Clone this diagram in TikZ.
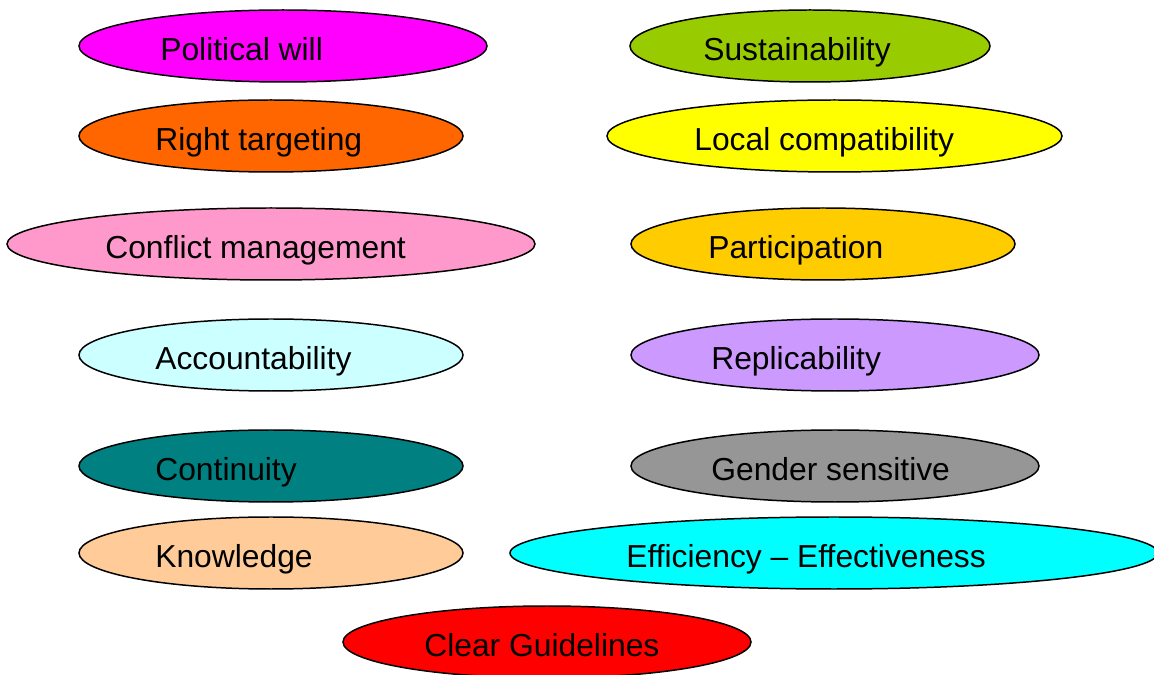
\documentclass[tikz,border=0pt]{standalone}
\usepackage{fontspec}
\setmainfont{Liberation Sans}
\usetikzlibrary{shapes.geometric}

\definecolor{cPol}{HTML}{FF00FF}
\definecolor{cSus}{HTML}{99CC00}
\definecolor{cTar}{HTML}{FF6600}
\definecolor{cLoc}{HTML}{FFFF00}
\definecolor{cCon}{HTML}{FF99CC}
\definecolor{cPar}{HTML}{FFCC00}
\definecolor{cAcc}{HTML}{CCFFFF}
\definecolor{cRep}{HTML}{CC99FF}
\definecolor{cCnt}{HTML}{008080}
\definecolor{cGen}{HTML}{969696}
\definecolor{cKno}{HTML}{FFCC99}
\definecolor{cEff}{HTML}{00FFFF}
\definecolor{cGui}{HTML}{FF0000}

\tikzset{
  blob/.style={ellipse, draw=black, line width=0.85pt, inner sep=0pt,
    minimum height=72*0.02cm},
  word/.style={anchor=base west, inner sep=0pt,
    font=\fontsize{18.1}{20}\selectfont}
}

\begin{document}
\begin{tikzpicture}[x=0.02cm, y=-0.02cm]
        \clip ( 0, 0 ) rectangle ( 1154, 675 );
        \fill [white] ( 0, 0 ) rectangle ( 1154, 675 );

        % left column
        \node [blob, fill=cPol, minimum width=408*0.02cm] (pol) at ( 283, 46 ) {};
        \node [word] (polt) at ( 160, 61 ) {Political will};
        \node [blob, fill=cTar, minimum width=384*0.02cm] (tar) at ( 271, 136 ) {};
        \node [word] (tart) at ( 155, 151 ) {Right targeting};
        \node [blob, fill=cCon, minimum width=528*0.02cm] (con) at ( 271, 244 ) {};
        \node [word] (cont) at ( 105, 259 ) {Conflict management};
        \node [blob, fill=cAcc, minimum width=384*0.02cm] (acc) at ( 271, 355 ) {};
        \node [word] (acct) at ( 155, 370 ) {Accountability};
        \node [blob, fill=cCnt, minimum width=384*0.02cm] (cnt) at ( 271, 466 ) {};
        \node [word] (cntt) at ( 155, 481 ) {Continuity};
        \node [blob, fill=cKno, minimum width=384*0.02cm] (kno) at ( 271, 553 ) {};
        \node [word] (knot) at ( 155, 568 ) {Knowledge};

        % right column
        \node [blob, fill=cSus, minimum width=360*0.02cm] (sus) at ( 810, 46 ) {};
        \node [word] (sust) at ( 703, 61 ) {Sustainability};
        \node [blob, fill=cLoc, minimum width=455*0.02cm] (loc) at ( 834.5, 136 ) {};
        \node [word] (loct) at ( 694, 151 ) {Local compatibility};
        \node [blob, fill=cPar, minimum width=384*0.02cm] (par) at ( 823, 244 ) {};
        \node [word] (part) at ( 708, 259 ) {Participation};
        \node [blob, fill=cRep, minimum width=408*0.02cm] (rep) at ( 835, 355 ) {};
        \node [word] (rept) at ( 711, 370 ) {Replicability};
        \node [blob, fill=cGen, minimum width=408*0.02cm] (gen) at ( 835, 466 ) {};
        \node [word] (gent) at ( 711, 481 ) {Gender sensitive};
        \node [blob, fill=cEff, minimum width=648*0.02cm] (eff) at ( 834, 553 ) {};
        \node [word] (efft) at ( 626, 568 ) {Efficiency -- Effectiveness};

        % bottom
        \node [blob, fill=cGui, minimum width=408*0.02cm] (gui) at ( 547, 642 ) {};
        \node [word] (guit) at ( 424, 657 ) {Clear Guidelines};
\end{tikzpicture}
\end{document}
